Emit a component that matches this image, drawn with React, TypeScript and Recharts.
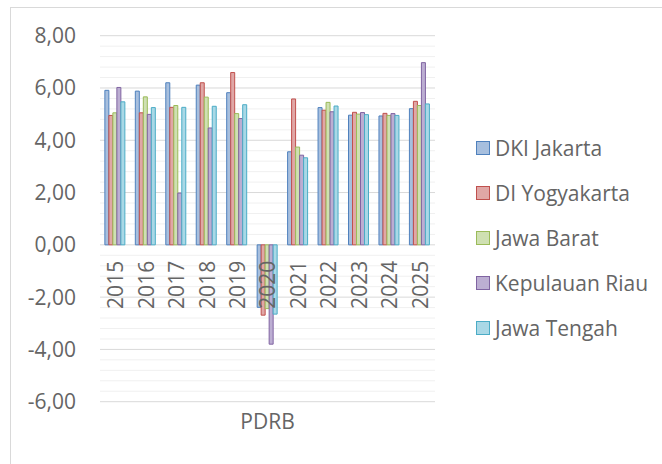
import { Bar, BarChart, CartesianGrid, XAxis, YAxis } from 'recharts';

// categories and values (PDRB growth, %)
const YEARS = ['2015', '2016', '2017', '2018', '2019', '2020', '2021', '2022', '2023', '2024', '2025'];
const DKI_JAKARTA = [5.91, 5.88, 6.2, 6.11, 5.82, -2.39, 3.56, 5.25, 4.96, 4.93, 5.21];
const DI_YOGYAKARTA = [4.95, 5.05, 5.26, 6.2, 6.59, -2.69, 5.58, 5.15, 5.07, 5.03, 5.49];
const JAWA_BARAT = [5.05, 5.66, 5.33, 5.65, 5.02, -2.44, 3.74, 5.45, 5.0, 4.95, 5.33];
const KEPULAUAN_RIAU = [6.02, 4.99, 1.98, 4.47, 4.83, -3.8, 3.43, 5.09, 5.06, 5.02, 6.97];
const JAWA_TENGAH = [5.47, 5.25, 5.26, 5.3, 5.36, -2.65, 3.33, 5.31, 4.98, 4.95, 5.39];
const Y_TICKS = [-6, -4, -2, 0, 2, 4, 6, 8];

const SERIES = [
  { key: 'dki', name: 'DKI Jakarta', values: DKI_JAKARTA },
  { key: 'diy', name: 'DI Yogyakarta', values: DI_YOGYAKARTA },
  { key: 'jabar', name: 'Jawa Barat', values: JAWA_BARAT },
  { key: 'kepri', name: 'Kepulauan Riau', values: KEPULAUAN_RIAU },
  { key: 'jateng', name: 'Jawa Tengah', values: JAWA_TENGAH },
];

const COLORS: Record<string, { stroke: string; fill: string }> = {
  dki: { stroke: '#4f81bd', fill: '#a7bfde' },
  diy: { stroke: '#c0504d', fill: '#e0a7a6' },
  jabar: { stroke: '#9bbb59', fill: '#cfe0b2' },
  kepri: { stroke: '#8064a2', fill: '#bcaed2' },
  jateng: { stroke: '#4bacc6', fill: '#a9d8e6' },
};

const data = YEARS.map((year, i) => {
  const row: Record<string, string | number> = { year };
  SERIES.forEach((s) => (row[s.key] = s.values[i]));
  return row;
});

// gridlines: major every 2, minor every 0.4
const Y_MIN = -6;
const Y_MAX = 8;
const GRID_TICKS = Array.from({ length: 36 }, (_, i) => +(Y_MIN + i * 0.4).toFixed(1));

const W = 662;
const H = 464;
const PLOT_LEFT = 100;
const PLOT_RIGHT = 435;
const PLOT_TOP = 35.7;
const PLOT_BOTTOM = 401.7;
const Y_AXIS_W = 90;
const X_AXIS_H = 40;
const ZERO_Y = PLOT_TOP + ((PLOT_BOTTOM - PLOT_TOP) * Y_MAX) / (Y_MAX - Y_MIN);

const FONT = 'Open Sans';
const FONT_SIZE = 21;
const TEXT = '#656565';

const fmt = (v: number) => v.toFixed(2).replace('.', ',');

function YearTick({ x, payload }: any) {
  const ty = ZERO_Y + 16;
  return (
    <text
      x={x}
      y={ty}
      transform={`rotate(-90 ${x} ${ty})`}
      textAnchor="end"
      dominantBaseline="central"
      fill={TEXT}
      fontSize={FONT_SIZE}
      fontFamily={FONT}
    >
      {payload.value}
    </text>
  );
}

const gridY = ({ offset }: any) =>
  GRID_TICKS.map((v) => offset.top + (offset.height * (Y_MAX - v)) / (Y_MAX - Y_MIN));

function GridLine(props: any) {
  const v = GRID_TICKS[props.index];
  const major = Y_TICKS.includes(v);
  return (
    <line
      x1={props.x1}
      x2={props.x2}
      y1={props.y1}
      y2={props.y2}
      stroke={major ? '#d9d9d9' : '#f0f0f0'}
      strokeWidth={1}
    />
  );
}

export default function App() {
  return (
    <div style={{ position: 'fixed', left: 0, top: 0, width: W, height: H, overflow: 'hidden', background: '#fff', fontFamily: FONT }}>
      {/* chart frame, right and bottom edges fall outside the picture */}
      <div style={{ position: 'absolute', left: 10, top: 7, width: 720, height: 520, border: '1px solid #d9d9d9' }} />
      <div style={{ position: 'absolute', left: 0, top: 0 }}>
        <BarChart
          width={W}
          height={H}
          data={data}
          margin={{ top: PLOT_TOP, right: W - PLOT_RIGHT, bottom: H - PLOT_BOTTOM - X_AXIS_H, left: PLOT_LEFT - Y_AXIS_W }}
          barCategoryGap="16%"
          barGap={0}
        >
          <CartesianGrid
            vertical={false}
            horizontalCoordinatesGenerator={gridY}
            horizontal={(p: any) => <GridLine key={p.key ?? p.index} {...p} />}
          />
          <XAxis
            dataKey="year"
            axisLine={false}
            tickLine={false}
            interval={0}
            height={X_AXIS_H}
            tick={(p: any) => <YearTick {...p} />}
            label={{ value: 'PDRB', position: 'insideTop', offset: 12, fill: TEXT, fontSize: FONT_SIZE, fontFamily: FONT }}
          />
          <YAxis
            domain={[Y_MIN, Y_MAX]}
            ticks={Y_TICKS}
            tickFormatter={fmt}
            axisLine={false}
            tickLine={false}
            tickSize={0}
            tickMargin={24}
            width={Y_AXIS_W}
            tick={{ fill: TEXT, fontSize: FONT_SIZE, fontFamily: FONT }}
          />
          {SERIES.map((s) => (
            <Bar
              key={s.key}
              dataKey={s.key}
              name={s.name}
              fill={COLORS[s.key].fill}
              stroke={COLORS[s.key].stroke}
              strokeWidth={1}
              isAnimationActive={false}
            />
          ))}
        </BarChart>
      </div>
      {/* legend */}
      <div style={{ position: 'absolute', left: 476, top: 125 }}>
        {SERIES.map((s) => (
          <div key={s.key} style={{ display: 'flex', alignItems: 'center', height: 45 }}>
            <div
              style={{
                width: 12,
                height: 12,
                border: `1.5px solid ${COLORS[s.key].stroke}`,
                background: COLORS[s.key].fill,
                marginRight: 5,
              }}
            />
            <span style={{ fontSize: FONT_SIZE, color: TEXT, whiteSpace: 'nowrap' }}>{s.name}</span>
          </div>
        ))}
      </div>
    </div>
  );
}
